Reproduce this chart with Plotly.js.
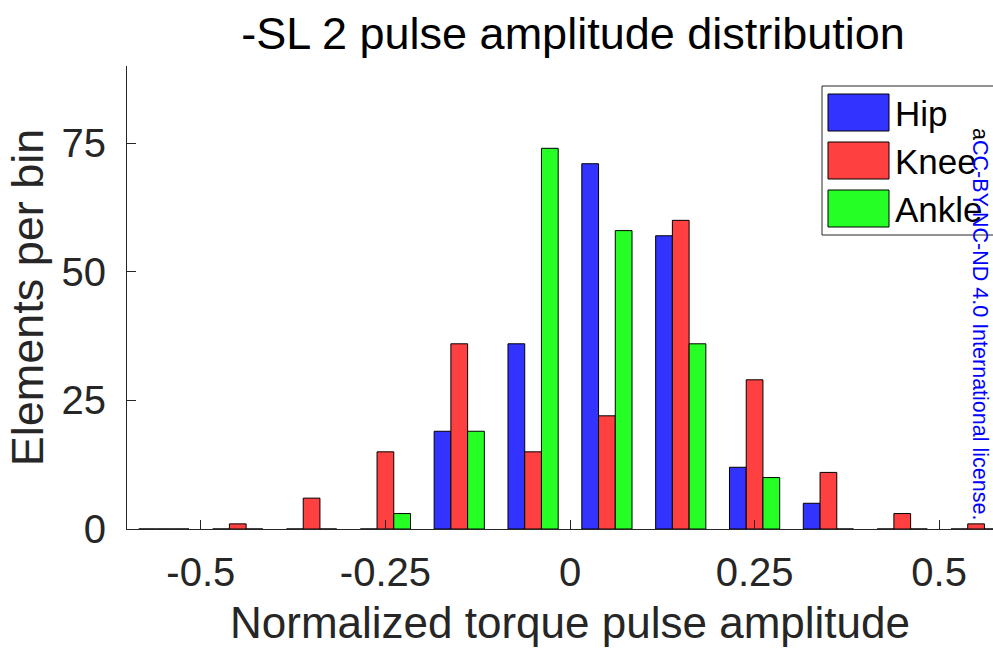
<!DOCTYPE html>
<html>
<head>
<meta charset="utf-8">
<script src="https://cdn.plot.ly/plotly-3.0.1.min.js"></script>
<style>
  html, body { margin: 0; padding: 0; overflow: hidden; background: #fff; }
  #chart { width: 1013px; height: 651px; }
</style>
</head>
<body>
<div id="chart"></div>
<script>
// Histogram bin centres (normalized torque pulse amplitude)
const binCenters = [-0.55, -0.45, -0.35, -0.25, -0.15, -0.05, 0.05, 0.15, 0.25, 0.35, 0.45, 0.55];

// Counts per bin for each joint
const hipCounts   = [0, 0, 0, 0, 19, 36, 71, 57, 12, 5, 0, 0];
const kneeCounts  = [0, 1, 6, 15, 36, 15, 22, 60, 29, 11, 3, 1];
const ankleCounts = [0, 0, 0, 3, 19, 74, 58, 36, 10, 0, 0, 0];

const seriesNames  = ['Hip', 'Knee', 'Ankle'];
const seriesColors = ['#3333ff', '#ff4040', '#26ff26'];
const seriesCounts = [hipCounts, kneeCounts, ankleCounts];

const xTickVals = [-0.5, -0.25, 0, 0.25, 0.5];
const xTickText = ['-0.5', '-0.25', '0', '0.25', '0.5'];
const yTickVals = [0, 25, 50, 75];
const yTickText = ['0', '25', '50', '75'];

const FONT = 'Liberation Sans, Arial, Helvetica, sans-serif';
const INK = '#262626';

// Plot area geometry (pixels)
const W = 1013, H = 651;
const M = { l: 127, r: 0, t: 66, b: 122 };
const plotW = W - M.l - M.r, plotH = H - M.t - M.b;
const px = x => (x - M.l) / plotW;          // page x -> paper x
const py = y => (H - M.b - y) / plotH;      // page y -> paper y

const traces = seriesNames.map((name, i) => ({
  type: 'bar',
  name: name,
  x: binCenters,
  y: seriesCounts[i],
  marker: { color: seriesColors[i], line: { color: '#000', width: 1 } },
  showlegend: false,
  hoverinfo: 'x+y+name'
}));

// Boxed legend with large swatches, upper right
const shapes = [{
  type: 'rect', xref: 'paper', yref: 'paper',
  x0: px(822), x1: px(1004), y0: py(235), y1: py(86),
  line: { color: INK, width: 1 }, fillcolor: '#fff', layer: 'above'
}];
const annotations = [];
const rowTop = [94, 142, 190];
seriesNames.forEach((name, i) => {
  shapes.push({
    type: 'rect', xref: 'paper', yref: 'paper',
    x0: px(828), x1: px(889), y0: py(rowTop[i] + 37), y1: py(rowTop[i]),
    line: { color: '#000', width: 1 }, fillcolor: seriesColors[i], layer: 'above'
  });
  annotations.push({
    xref: 'paper', yref: 'paper', x: px(893), y: py(rowTop[i] + 19),
    xanchor: 'left', yanchor: 'middle', showarrow: false,
    text: name, font: { family: FONT, size: 35, color: '#000' }
  });
});

// Licence note along the right edge
annotations.push({
  xref: 'paper', yref: 'paper', x: px(980), y: py(324),
  xanchor: 'center', yanchor: 'middle', showarrow: false, textangle: 90,
  text: '<span style="color:#000">a</span>CC-BY-NC-ND 4.0 International license.',
  font: { family: FONT, size: 21.5, color: '#0000ff' }
});

const layout = {
  width: W, height: H,
  margin: M,
  paper_bgcolor: '#fff', plot_bgcolor: '#fff',
  barmode: 'group', bargap: 0.32, bargroupgap: 0,
  title: {
    text: '-SL 2 pulse amplitude distribution',
    font: { family: FONT, size: 45, color: '#000' },
    xref: 'container', x: 573 / W, xanchor: 'center',
    yref: 'container', y: 1 - 33 / H, yanchor: 'middle'
  },
  xaxis: {
    range: [-0.6, 0.6],
    tickvals: xTickVals, ticktext: xTickText,
    ticks: 'inside', ticklen: 9, tickwidth: 1, tickcolor: INK,
    showline: true, linecolor: INK, linewidth: 1,
    showgrid: false, zeroline: false,
    tickfont: { family: FONT, size: 40, color: INK },
    ticklabelstandoff: 8,
    title: { text: 'Normalized torque pulse amplitude', font: { family: FONT, size: 44, color: INK }, standoff: 14 }
  },
  yaxis: {
    range: [0, 90],
    tickvals: yTickVals, ticktext: yTickText,
    ticks: 'inside', ticklen: 9, tickwidth: 1, tickcolor: INK,
    showline: true, linecolor: INK, linewidth: 1,
    showgrid: false, zeroline: false,
    tickfont: { family: FONT, size: 40, color: INK },
    ticklabelstandoff: 12,
    title: { text: 'Elements per bin', font: { family: FONT, size: 45, color: INK }, standoff: 3 }
  },
  shapes: shapes,
  annotations: annotations
};

Plotly.newPlot('chart', traces, layout, { displayModeBar: false, staticPlot: true });
</script>
</body>
</html>
